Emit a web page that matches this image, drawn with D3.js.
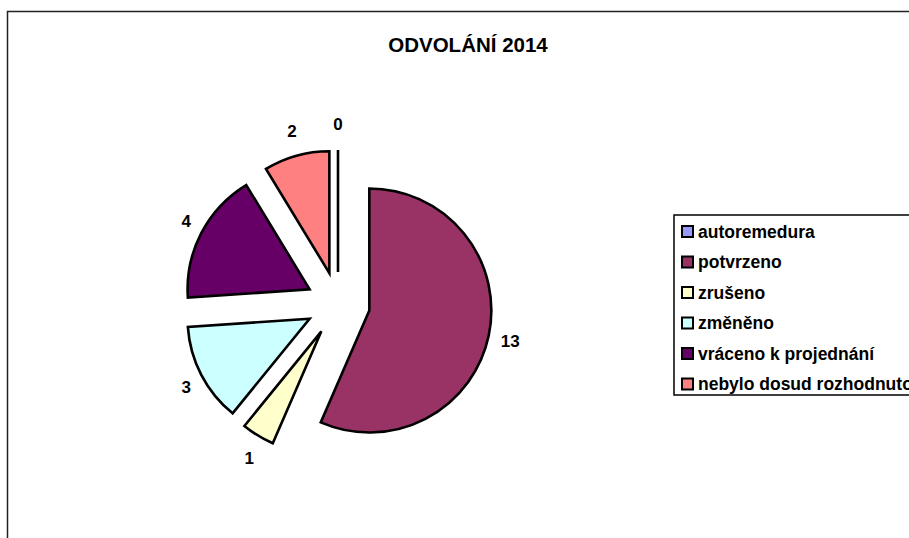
<!DOCTYPE html>
<html>
<head>
<meta charset="utf-8">
<script src="https://cdn.jsdelivr.net/npm/d3@7"></script>
<style>
  body { margin: 0; background: #fff; }
  text { font-family: "Liberation Sans", Arial, sans-serif; font-weight: bold; fill: #000; }
</style>
</head>
<body>
<script>
const w = 909;
const h = 538;

// data
const categories = ['autoremedura', 'potvrzeno', 'zrušeno', 'změněno', 'vráceno k projednání', 'nebylo dosud rozhodnuto'];
const values = [0, 13, 1, 3, 4, 2];
const colors = ['#9999FF', '#993366', '#FFFFCC', '#CCFFFF', '#660066', '#FF8080'];
const title = 'ODVOLÁNÍ 2014';

const cx = 338, cy = 304;
const radius = 122;
const explode = 32;

const svg = d3.select('body')
   .append('svg')
   .attr('width', w)
   .attr('height', h);

// chart frame (runs off the right and bottom)
svg.append('rect')
   .attr('x', 7.5)
   .attr('y', 11.5)
   .attr('width', 1000)
   .attr('height', 600)
   .style('fill', 'none')
   .style('stroke', '#222')
   .style('stroke-width', 1.5);

svg.append('text')
   .attr('x', 468)
   .attr('y', 52)
   .attr('text-anchor', 'middle')
   .style('font-size', '20.5px')
   .text(title);

const pie = d3.pie().sort(null).value((d) => d)(values);
const arc = d3.arc().innerRadius(0).outerRadius(radius);

const dir = (d) => {
   const a = (d.startAngle + d.endAngle) / 2;
   return [Math.sin(a), -Math.cos(a)];
};

const g = svg.append('g').attr('transform', 'translate(' + cx + ',' + cy + ')');

g.selectAll('path')
   .data(pie)
   .enter()
   .append('path')
   .attr('d', arc)
   .attr('transform', (d) => {
      const [dx, dy] = dir(d);
      return 'translate(' + dx * explode + ',' + dy * explode + ')';
   })
   .style('fill', (d, i) => colors[i])
   .style('stroke', '#000')
   .style('stroke-width', 2.6)
   .style('stroke-linejoin', 'miter');

// data labels outside each slice
g.selectAll('text.lbl')
   .data(pie)
   .enter()
   .append('text')
   .attr('class', 'lbl')
   .attr('text-anchor', 'middle')
   .attr('dy', '0.35em')
   .style('font-size', '17px')
   .each(function (d) {
      const [dx, dy] = dir(d);
      const lw = String(d.data).length * 10;
      const x = dx * (explode + radius + 12) + dx * lw / 2;
      const y = dy * (explode + radius + 12) + dy * 14;
      d3.select(this).attr('x', x).attr('y', y).text(d.data);
   });

// legend
const lx = 674, ly = 215;
svg.append('rect')
   .attr('x', lx)
   .attr('y', ly)
   .attr('width', 300)
   .attr('height', 180)
   .style('fill', '#fff')
   .style('stroke', '#000')
   .style('stroke-width', 1.5);

const legend = svg.selectAll('g.item')
   .data(categories)
   .enter()
   .append('g')
   .attr('class', 'item')
   .attr('transform', (d, i) => 'translate(' + lx + ',' + (ly + 16.5 + i * 30.5) + ')');

legend.append('rect')
   .attr('x', 8)
   .attr('y', -5.5)
   .attr('width', 11)
   .attr('height', 11)
   .style('fill', (d, i) => colors[i])
   .style('stroke', '#000')
   .style('stroke-width', 2);

legend.append('text')
   .attr('x', 24)
   .attr('dy', '0.35em')
   .style('font-size', '17.5px')
   .text((d) => d);
</script>
</body>
</html>
